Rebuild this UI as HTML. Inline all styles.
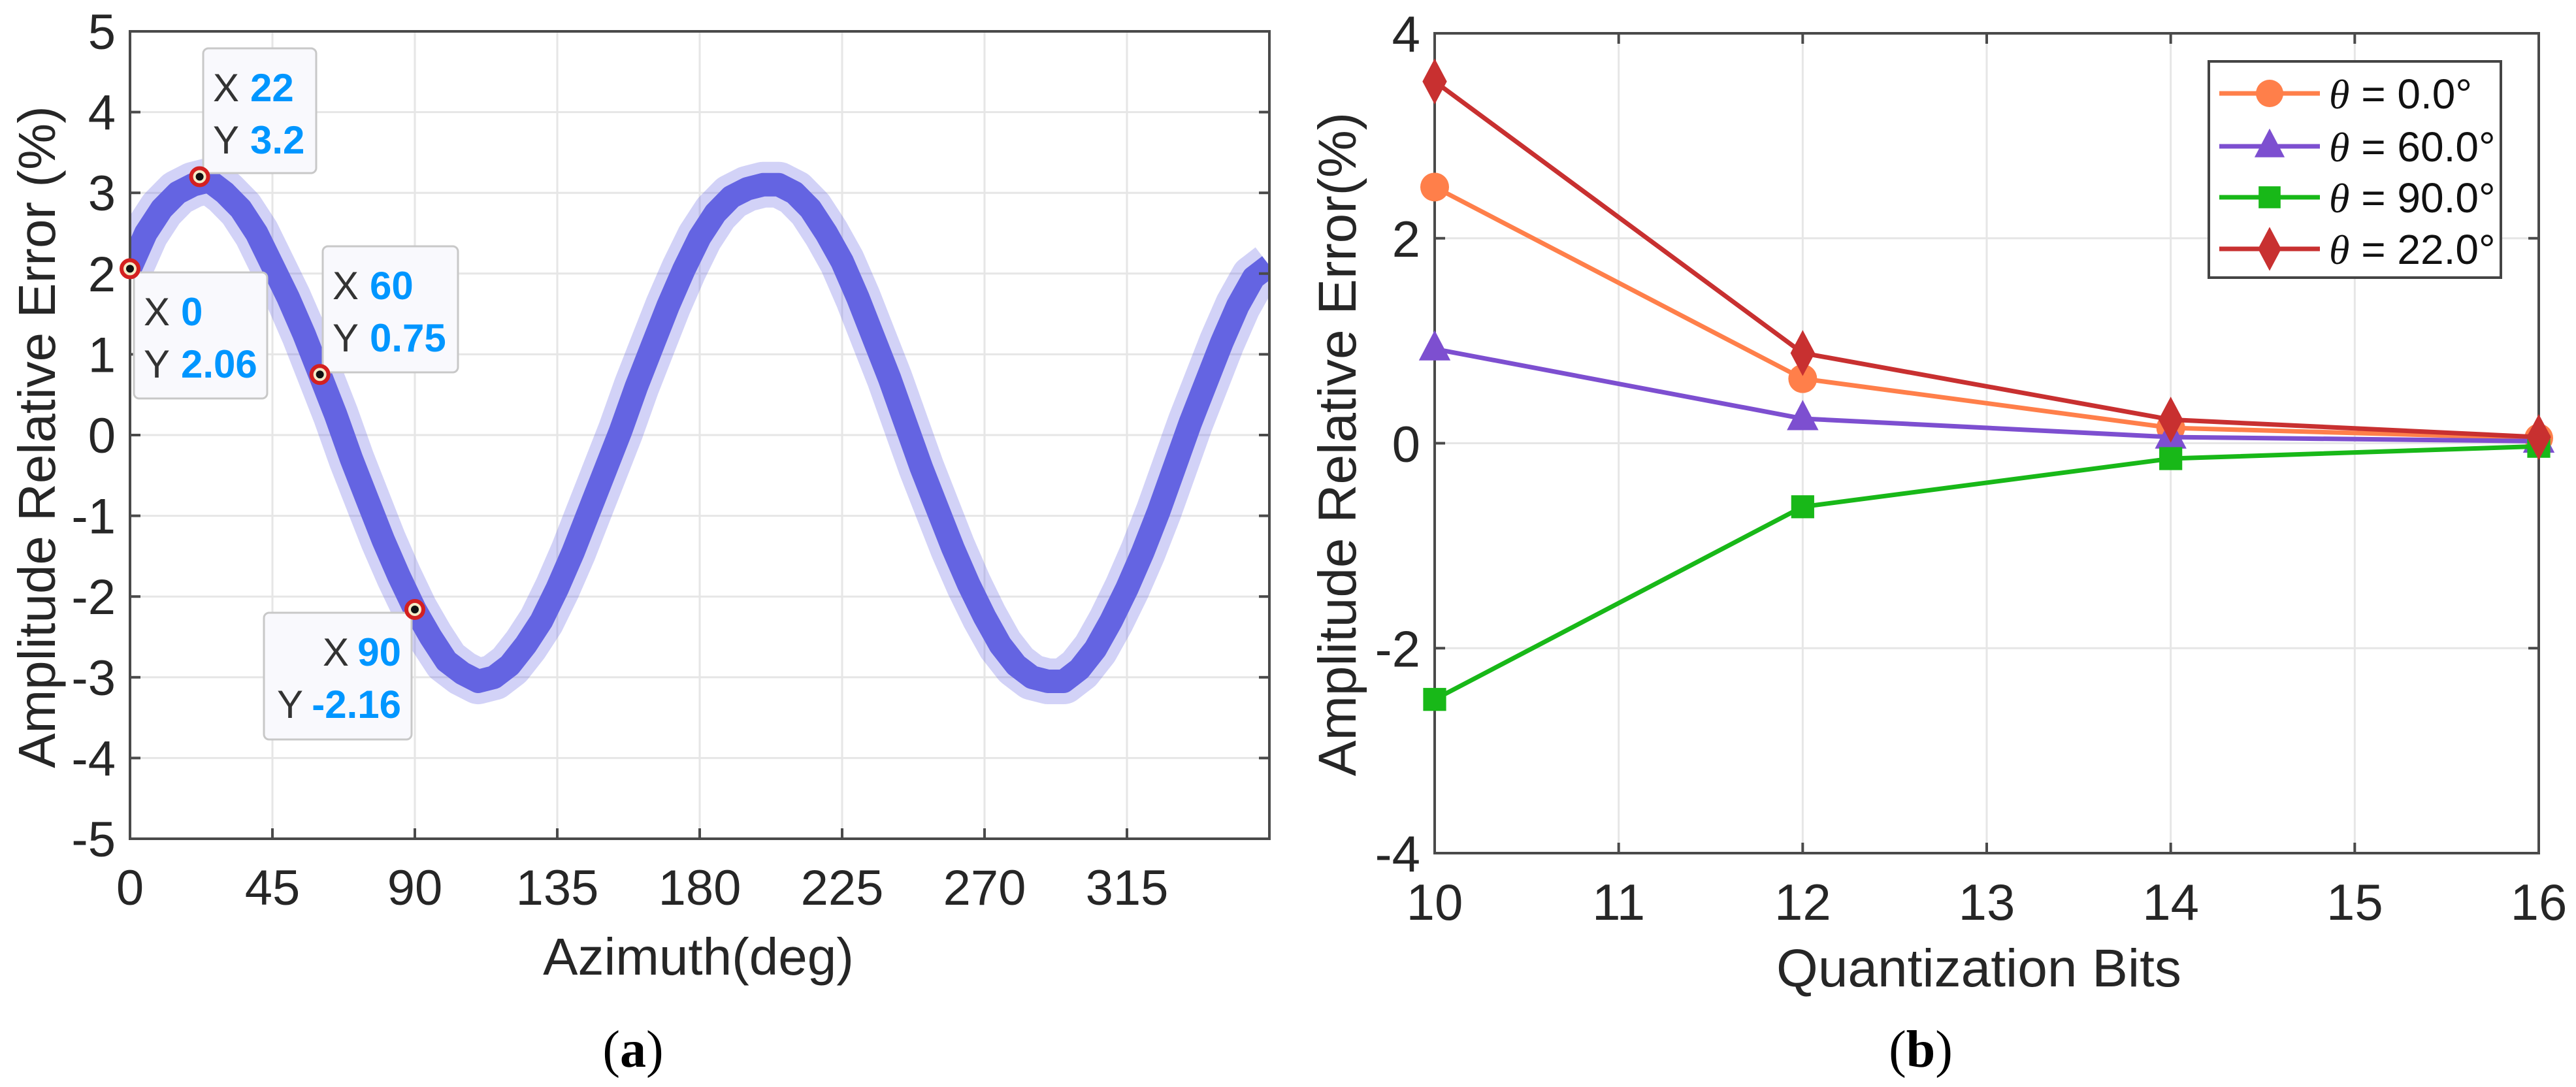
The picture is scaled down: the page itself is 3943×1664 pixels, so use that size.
<!DOCTYPE html>
<html><head><meta charset="utf-8"><style>
html,body{margin:0;padding:0;background:#fff;width:3943px;height:1664px;overflow:hidden}
svg{display:block;font-family:"Liberation Sans",Arial,sans-serif}
</style></head><body>
<svg id="fig" width="3943" height="1664" viewBox="0 0 3943 1664" xmlns="http://www.w3.org/2000/svg">
<defs><clipPath id="clipA"><rect x="199" y="48" width="1744" height="1236"/></clipPath></defs>
<g id="pa"></g>
<g id="pb"></g>
</svg>
<script>
// Panel (a) data
const azimuthDeg = [0,5,10,15,20,25,30,35,40,45,50,55,60,65,70,75,80,85,90,95,100,105,110,115,120,125,130,135,140,145,150,155,160,165,170,175,180,185,190,195,200,205,210,215,220,225,230,235,240,245,250,255,260,265,270,275,280,285,290,295,300,305,310,315,320,325,330,335,340,345,350,355,360];
const ampError = [2.06,2.5,2.8,3.0,3.1,3.15,3.0,2.8,2.5,2.1,1.7,1.25,0.75,0.25,-0.3,-0.8,-1.3,-1.75,-2.16,-2.5,-2.8,-2.95,-3.05,-3.0,-2.85,-2.6,-2.3,-1.9,-1.45,-0.95,-0.45,0.05,0.6,1.1,1.6,2.05,2.45,2.75,2.95,3.05,3.1,3.1,3.0,2.8,2.5,2.15,1.7,1.2,0.7,0.15,-0.4,-0.9,-1.4,-1.85,-2.25,-2.6,-2.85,-3.0,-3.05,-3.05,-2.9,-2.65,-2.3,-1.9,-1.45,-0.95,-0.4,0.15,0.65,1.15,1.6,1.95,2.1];
const xTicksA = [0,45,90,135,180,225,270,315];
const yTicksA = [-5,-4,-3,-2,-1,0,1,2,3,4,5];
const tipX = [0,22,60,90];
const tipY = [2.06,3.2,0.75,-2.16];
// Panel (b) data
const bits = [10,12,14,16];
const theta0 = [2.5,0.63,0.15,0.05];
const theta60 = [0.92,0.24,0.06,0.02];
const theta90 = [-2.5,-0.62,-0.15,-0.03];
const theta22 = [3.53,0.88,0.23,0.06];
const xTicksB = [10,11,12,13,14,15,16];
const yTicksB = [-4,-2,0,2,4];

const NS='http://www.w3.org/2000/svg';
function mk(parent,tag,attrs,text){const e=document.createElementNS(NS,tag);for(const k in attrs)e.setAttribute(k,attrs[k]);if(text!==undefined)e.textContent=text;parent.appendChild(e);return e;}

// ---------- Panel A ----------
const pa=document.getElementById('pa');
const AL=199,AR=1943,AT=48,AB=1284;
const xa=v=>AL+(v-0)/360*(AR-AL);
const ya=v=>AB-(v+5)/10*(AB-AT);
for(const t of xTicksA){
  const g=mk(pa,'line',{x1:xa(t),x2:xa(t),y1:AT,y2:AB,stroke:'#e6e6e6','stroke-width':3});
  
  
}
for(const t of yTicksA){
  const g=mk(pa,'line',{x1:AL,x2:AR,y1:ya(t),y2:ya(t),stroke:'#e6e6e6','stroke-width':3});
  
  
}
let pts=azimuthDeg.map((d,i)=>xa(d).toFixed(1)+','+ya(ampError[i]).toFixed(1)).join(' ');
const clipG=mk(pa,'g',{'clip-path':'url(#clipA)'});


const band=mk(clipG,'polyline',{points:pts,fill:'none',stroke:'#6b6be6','stroke-width':70,'stroke-opacity':0.3,'stroke-linejoin':'round'});


const sl=mk(clipG,'polyline',{points:pts,fill:'none',stroke:'#6464e2','stroke-width':36,'stroke-linejoin':'round'});


const boxA=mk(pa,'rect',{x:AL,y:AT,width:AR-AL,height:AB-AT,fill:'none',stroke:'#4a4a4a','stroke-width':4});


for(const t of xTicksA){
  mk(pa,'line',{x1:xa(t),x2:xa(t),y1:AB,y2:AB-16,stroke:'#4a4a4a','stroke-width':4});
  const l=mk(pa,'text',{x:xa(t),y:1385,'font-size':76,'text-anchor':'middle',fill:'#262626'},String(t));
  
  
}
for(const t of yTicksA){
  mk(pa,'line',{x1:AL,x2:AL+16,y1:ya(t),y2:ya(t),stroke:'#4a4a4a','stroke-width':4});
  mk(pa,'line',{x1:AR,x2:AR-16,y1:ya(t),y2:ya(t),stroke:'#4a4a4a','stroke-width':4});
  const l=mk(pa,'text',{x:AL-22,y:ya(t)+27,'font-size':76,'text-anchor':'end',fill:'#262626'},String(t));
  
  
}
const xtA=mk(pa,'text',{x:1069,y:1492,'font-size':80,'text-anchor':'middle',fill:'#262626'},'Azimuth(deg)');


const ytA=mk(pa,'text',{x:0,y:0,'font-size':80,'text-anchor':'middle',fill:'#262626',transform:'translate(84,669) rotate(-90)'},'Amplitude Relative Error (%)');


// datatips
const tipBoxes=[[205,417,204,193,'start'],[311,74,173,191,'start'],[494,377,207,193,'start'],[404,938,226,194,'end']];
tipX.forEach((xv,i)=>{
  const g=mk(pa,'g',{});
  
  
  const b=tipBoxes[i];
  mk(g,'rect',{x:b[0],y:b[1],width:b[2],height:b[3],rx:8,fill:'#f9f9fd',stroke:'#c8c8c8','stroke-width':3});
  const ty1=b[1]+81,ty2=b[1]+161;
  if(b[4]==='start'){
    mk(g,'text',{x:b[0]+15,y:ty1,'font-size':60,fill:'#333'},'X');
    mk(g,'text',{x:b[0]+72,y:ty1,'font-size':60,'font-weight':'bold',fill:'#0096ff'},String(xv));
    mk(g,'text',{x:b[0]+15,y:ty2,'font-size':60,fill:'#333'},'Y');
    mk(g,'text',{x:b[0]+72,y:ty2,'font-size':60,'font-weight':'bold',fill:'#0096ff'},String(tipY[i]));
  }else{
    const r=b[0]+b[2]-16;
    mk(g,'text',{x:r,y:ty1,'font-size':60,'font-weight':'bold','text-anchor':'end',fill:'#0096ff'},String(xv));
    mk(g,'text',{x:r-80,y:ty1,'font-size':60,'text-anchor':'end',fill:'#333'},'X');
    mk(g,'text',{x:r,y:ty2,'font-size':60,'font-weight':'bold','text-anchor':'end',fill:'#0096ff'},String(tipY[i]));
    mk(g,'text',{x:r-150,y:ty2,'font-size':60,'text-anchor':'end',fill:'#333'},'Y');
  }
  const mx=xa(xv),my=ya(tipY[i]);
  mk(g,'circle',{cx:mx,cy:my,r:13,fill:'#f4ecc8',stroke:'#d42020','stroke-width':6});
  mk(g,'circle',{cx:mx,cy:my,r:6,fill:'#111'});
});
const capA=mk(pa,'text',{x:969,y:1633,'font-size':80,'text-anchor':'middle',fill:'#000','font-family':'Liberation Serif,serif'},'');


mk(capA,'tspan',{},'(');mk(capA,'tspan',{'font-weight':'bold'},'a');mk(capA,'tspan',{},')');

// ---------- Panel B ----------
const pb=document.getElementById('pb');
const BL=2196,BR=3886,BT=51,BB=1306;
const xb=v=>BL+(v-10)/6*(BR-BL);
const yb=v=>BB-(v+4)/8*(BB-BT);
for(const t of xTicksB){
  const g=mk(pb,'line',{x1:xb(t),x2:xb(t),y1:BT,y2:BB,stroke:'#e6e6e6','stroke-width':3});
  
  
}
for(const t of yTicksB){
  const g=mk(pb,'line',{x1:BL,x2:BR,y1:yb(t),y2:yb(t),stroke:'#e6e6e6','stroke-width':3});
  
  
}
const boxB=mk(pb,'rect',{x:BL,y:BT,width:BR-BL,height:BB-BT,fill:'none',stroke:'#4a4a4a','stroke-width':4});


for(const t of xTicksB){
  mk(pb,'line',{x1:xb(t),x2:xb(t),y1:BB,y2:BB-16,stroke:'#4a4a4a','stroke-width':4});
  mk(pb,'line',{x1:xb(t),x2:xb(t),y1:BT,y2:BT+16,stroke:'#4a4a4a','stroke-width':4});
  const l=mk(pb,'text',{x:xb(t),y:1408,'font-size':78,'text-anchor':'middle',fill:'#262626'},String(t));
  
  
}
for(const t of yTicksB){
  mk(pb,'line',{x1:BL,x2:BL+16,y1:yb(t),y2:yb(t),stroke:'#4a4a4a','stroke-width':4});
  mk(pb,'line',{x1:BR,x2:BR-16,y1:yb(t),y2:yb(t),stroke:'#4a4a4a','stroke-width':4});
  const l=mk(pb,'text',{x:BL-22,y:yb(t)+28,'font-size':78,'text-anchor':'end',fill:'#262626'},String(t));
  
  
}
const xtB=mk(pb,'text',{x:3029,y:1510,'font-size':82,'text-anchor':'middle',fill:'#262626'},'Quantization Bits');


const ytB=mk(pb,'text',{x:0,y:0,'font-size':82,'text-anchor':'middle',fill:'#262626',transform:'translate(2075,680) rotate(-90)'},'Amplitude Relative Error(%)');



function marker(g,type,x,y,c,s){
  if(type==='circle')mk(g,'circle',{cx:x,cy:y,r:s,fill:c});
  else if(type==='tri')mk(g,'polygon',{points:`${x},${y-s*1.3} ${x-s*1.1},${y+s*0.8} ${x+s*1.1},${y+s*0.8}`,fill:c});
  else if(type==='sq')mk(g,'rect',{x:x-s*0.8,y:y-s*0.8,width:s*1.6,height:s*1.6,fill:c});
  else mk(g,'polygon',{points:`${x},${y-s*1.6} ${x+s*0.85},${y} ${x},${y+s*1.6} ${x-s*0.85},${y}`,fill:c});
}
const series=[['theta-0',theta0,'#ff7f4a','circle','0.0°'],['theta-60',theta60,'#7d4fd0','tri','60.0°'],['theta-90',theta90,'#18b818','sq','90.0°'],['theta-22',theta22,'#c83030','dia','22.0°']];
series.forEach(s=>{
  const g=mk(pb,'g',{});
  
  
  mk(g,'polyline',{points:bits.map((b,i)=>xb(b)+','+yb(s[1][i])).join(' '),fill:'none',stroke:s[2],'stroke-width':7});
  bits.forEach((b,i)=>marker(g,s[3],xb(b),yb(s[1][i]),s[2],22));
});
// legend
const lg=mk(pb,'g',{});


mk(lg,'rect',{x:3381,y:94,width:447,height:331,fill:'#fff',stroke:'#444','stroke-width':4});
const ly=[143,224,302,381];
series.forEach((s,i)=>{
  const e=mk(lg,'g',{});
  
  
  mk(e,'line',{x1:3397,x2:3551,y1:ly[i],y2:ly[i],stroke:s[2],'stroke-width':7});
  marker(e,s[3],3474,ly[i],s[2],21);
  const t=mk(e,'text',{x:3565,y:ly[i]+23,'font-size':64,fill:'#111'},'');
  mk(t,'tspan',{'font-style':'italic','font-family':'Liberation Serif,serif'},'θ');
  mk(t,'tspan',{},' = '+s[4]);
});
const capB=mk(pb,'text',{x:2940,y:1633,'font-size':80,'text-anchor':'middle',fill:'#000','font-family':'Liberation Serif,serif'},'');


mk(capB,'tspan',{},'(');mk(capB,'tspan',{'font-weight':'bold'},'b');mk(capB,'tspan',{},')');
</script>
</body></html>
